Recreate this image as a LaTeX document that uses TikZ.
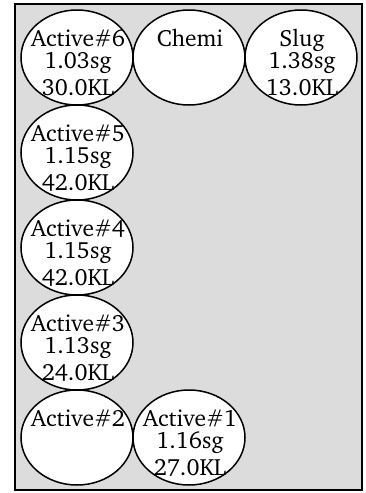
\documentclass[tikz,border=0pt]{standalone}
\usepackage[T1]{fontenc}
\usepackage{charter}
\usetikzlibrary{shapes.geometric}
\definecolor{bggray}{RGB}{220,220,220}
\tikzset{
	tank/.style={draw=black,line width=1.5pt,fill=white,ellipse,minimum width=112pt,minimum height=95pt,inner sep=0pt},
	txt/.style={anchor=base,inner sep=0pt,font=\fontsize{23.5}{23.5}\selectfont}
}
\begin{document}
\begin{tikzpicture}[x=1pt,y=-1pt]
	\useasboundingbox (0,0) rectangle (365,493);
	\draw[black,line width=2pt][fill=bggray](15,4) rectangle (362,490);
	
	\node[tank] (a6) at (77,57.5){};
	\node[tank] (chemi) at (189,57.5){};
	\node[tank] (slug) at (301,57.5){};
	\node[tank] (a5) at (77,152.5){};
	\node[tank] (a4) at (77,247.5){};
	\node[tank] (a3) at (77,342.5){};
	\node[tank] (a2) at (77,437.5){};
	\node[tank] (a1) at (189,437.5){};
	
	\node[txt] (a6name) at (78,46.5){Active\#6};
	\node[txt] (a6sg) at (78,68.5){1.03sg};
	\node[txt] (a6kl) at (78,95){30.0KL};
	\node[txt] (cheminame) at (190,46.5){Chemi};
	\node[txt] (slugname) at (302,46.5){Slug};
	\node[txt] (slugsg) at (302,68.5){1.38sg};
	\node[txt] (slugkl) at (302,95){13.0KL};
	\node[txt] (a5name) at (78,141.5){Active\#5};
	\node[txt] (a5sg) at (78,163.5){1.15sg};
	\node[txt] (a5kl) at (78,190){42.0KL};
	\node[txt] (a4name) at (78,236.5){Active\#4};
	\node[txt] (a4sg) at (78,258.5){1.15sg};
	\node[txt] (a4kl) at (78,285){42.0KL};
	\node[txt] (a3name) at (78,331.5){Active\#3};
	\node[txt] (a3sg) at (78,353.5){1.13sg};
	\node[txt] (a3kl) at (78,380){24.0KL};
	\node[txt] (a2name) at (78,426.5){Active\#2};
	\node[txt] (a1name) at (190,426.5){Active\#1};
	\node[txt] (a1sg) at (190,448.5){1.16sg};
	\node[txt] (a1kl) at (190,475){27.0KL};
\end{tikzpicture}
\end{document}
